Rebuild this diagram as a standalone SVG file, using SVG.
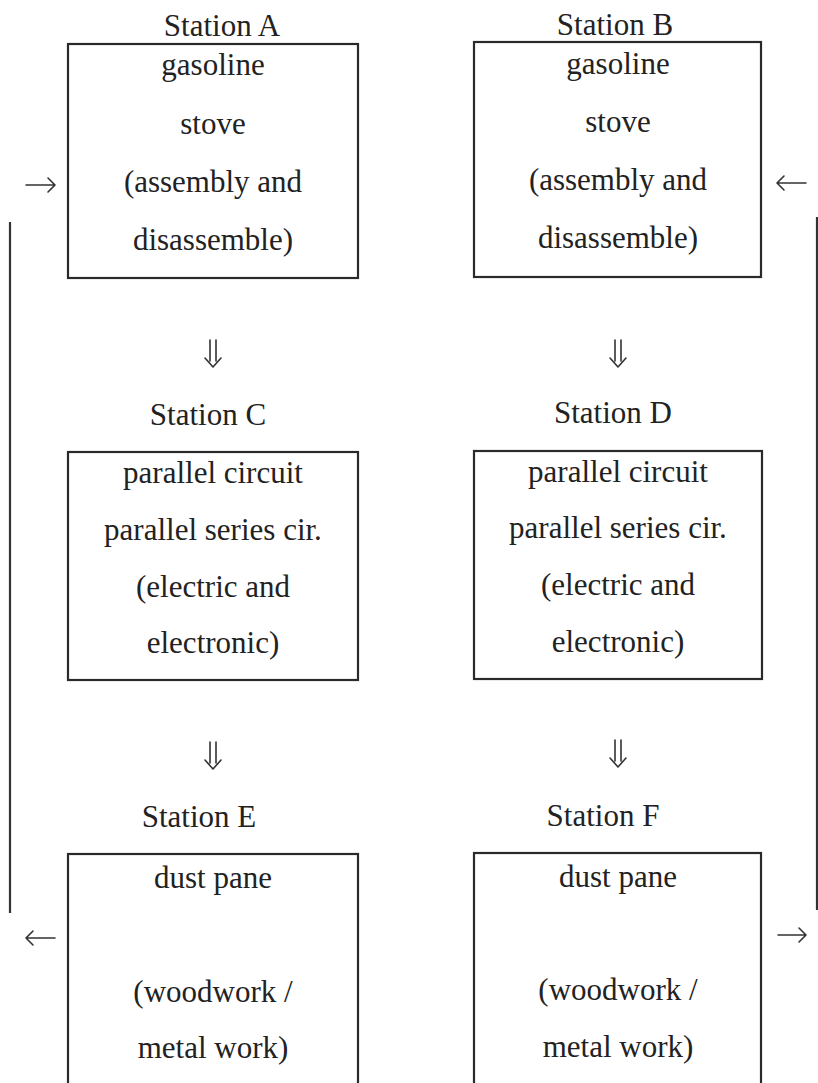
<svg xmlns="http://www.w3.org/2000/svg" width="818" height="1083" viewBox="0 0 818 1083">
<style>
.box{fill:none;stroke:#2a2a2a;stroke-width:2.2}
.t{font-family:"Liberation Serif","Times New Roman",serif;font-size:31px;fill:#222;text-anchor:middle}
.c{fill:none;stroke:#333;stroke-width:1.6;stroke-linecap:round;stroke-linejoin:round}
.v{fill:none;stroke:#333;stroke-width:2.2}
</style>
<rect width="818" height="1083" fill="#fff"/>
<g id="stationA">
<text class="t" x="222" y="36">Station A</text>
<rect class="box" x="68" y="44" width="290" height="234"/>
<text class="t" x="213" y="75">gasoline</text>
<text class="t" x="213" y="134">stove</text>
<text class="t" x="213" y="192">(assembly and</text>
<text class="t" x="213" y="250">disassemble)</text>
</g>
<g id="stationB">
<text class="t" x="615" y="35">Station B</text>
<rect class="box" x="474" y="42" width="287" height="235"/>
<text class="t" x="618" y="74">gasoline</text>
<text class="t" x="618" y="132">stove</text>
<text class="t" x="618" y="190">(assembly and</text>
<text class="t" x="618" y="248">disassemble)</text>
</g>
<g id="stationC">
<text class="t" x="208" y="425">Station C</text>
<rect class="box" x="68" y="452" width="290" height="228"/>
<text class="t" x="213" y="483">parallel circuit</text>
<text class="t" x="213" y="540">parallel series cir.</text>
<text class="t" x="213" y="597">(electric and</text>
<text class="t" x="213" y="653">electronic)</text>
</g>
<g id="stationD">
<text class="t" x="613" y="423">Station D</text>
<rect class="box" x="474" y="451" width="288" height="228"/>
<text class="t" x="618" y="482">parallel circuit</text>
<text class="t" x="618" y="538">parallel series cir.</text>
<text class="t" x="618" y="595">(electric and</text>
<text class="t" x="618" y="652">electronic)</text>
</g>
<g id="stationE">
<text class="t" x="199" y="827">Station E</text>
<rect class="box" x="68" y="854" width="290" height="240"/>
<text class="t" x="213" y="888">dust pane</text>
<text class="t" x="213" y="1002">(woodwork /</text>
<text class="t" x="213" y="1058">metal work)</text>
</g>
<g id="stationF">
<text class="t" x="603" y="826">Station F</text>
<rect class="box" x="474" y="853" width="287" height="240"/>
<text class="t" x="618" y="887">dust pane</text>
<text class="t" x="618" y="1000">(woodwork /</text>
<text class="t" x="618" y="1057">metal work)</text>
</g>
<g id="connectors">
<path class="v" d="M10,222 V913"/>
<path class="v" d="M817,217 V910"/>
<path class="c" d="M26,185 H55 M48,178 L55,185 L48,192"/>
<path class="c" d="M806,183 H777 M784,176 L777,183 L784,190"/>
<path class="c" d="M55,938 H26 M33,931 L26,938 L33,945"/>
<path class="c" d="M778,935 H806 M799,928 L806,935 L799,942"/>
<path class="c" d="M210,340 V361 M216,340 V361 M205,358 L213,367 L221,358"/>
<path class="c" d="M615,340 V361 M621,340 V361 M610,358 L618,367 L626,358"/>
<path class="c" d="M210,742 V763 M216,742 V763 M205,760 L213,769 L221,760"/>
<path class="c" d="M615,740 V761 M621,740 V761 M610,758 L618,767 L626,758"/>
</g>
</svg>
